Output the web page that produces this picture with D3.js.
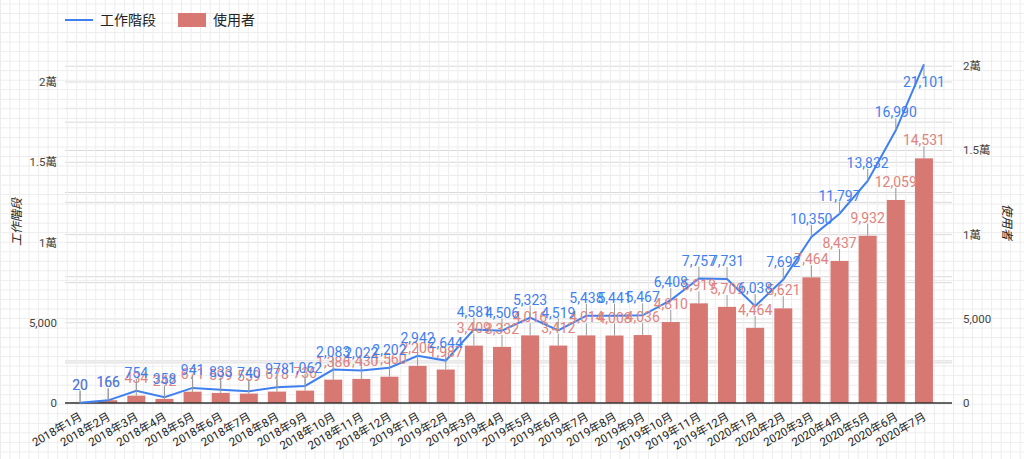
<!DOCTYPE html>
<html>
<head>
<meta charset="utf-8">
<script src="https://cdn.jsdelivr.net/npm/d3@7"></script>
<style>
  body { margin: 0; background: #fff; }
  svg { display: block; font-family: Roboto, "Noto Sans CJK TC", sans-serif; }
</style>
</head>
<body>
<div id="chart-area"></div>
<script>
const months = ['2018年1月','2018年2月','2018年3月','2018年4月','2018年5月','2018年6月','2018年7月','2018年8月','2018年9月','2018年10月','2018年11月','2018年12月',
  '2019年1月','2019年2月','2019年3月','2019年4月','2019年5月','2019年6月','2019年7月','2019年8月','2019年9月','2019年10月','2019年11月','2019年12月',
  '2020年1月','2020年2月','2020年3月','2020年4月','2020年5月','2020年6月','2020年7月'];
const sessions = [20, 166, 754, 358, 941, 833, 740, 978, 1062, 2083, 2022, 2202, 2942, 2644, 4581, 4506, 5323, 4519, 5438, 5441, 5467, 6408, 7757, 7731, 6038, 7692, 10350, 11797, 13832, 16990, 21101];
const users = [20, 166, 434, 242, 671, 599, 559, 678, 736, 1386, 1430, 1560, 2206, 1987, 3409, 3332, 4016, 3412, 4014, 4008, 4036, 4810, 5919, 5709, 4464, 5621, 7464, 8437, 9932, 12059, 14531];
const tickValues = [0, 5000, 10000, 15000, 20000];
const tickLabels = ['0', '5,000', '1萬', '1.5萬', '2萬'];
const seriesNames = ['工作階段', '使用者'];

const W = 1024, H = 459;
const blue = '#3f80f0', red = '#d77873', redText = '#e0837e';

let svg = d3.select('#chart-area').append('svg').attr('width', W).attr('height', H);

// graph paper background
let defs = svg.append('defs');
let pat = defs.append('pattern').attr('id', 'paper')
  .attr('patternUnits', 'userSpaceOnUse').attr('width', 9.53).attr('height', 9.53)
  .attr('x', 0).attr('y', 3.5);
pat.append('path').attr('d', 'M0.5 0V9.53M0 0.5H9.53')
  .attr('stroke', '#ececec').attr('stroke-width', 1).attr('fill', 'none');
svg.append('rect').attr('width', W).attr('height', H).attr('fill', '#fff');

let x = d3.scaleBand().domain(months).range([66, 938]).paddingInner(0.36).paddingOuter(0.18);
let yL = d3.scaleLinear().domain([0, 22500]).range([403, 41.9]);
let yR = d3.scaleLinear().domain([0, 21500]).range([403, 41]);

// gridlines for both axes
[yL, yR].forEach((sc) => {
  svg.append('g').selectAll('line').data(d3.range(2500, sc.domain()[1] + 1, 2500)).enter().append('line')
    .attr('x1', 65).attr('x2', 952)
    .attr('y1', (d) => sc(d)).attr('y2', (d) => sc(d))
    .attr('stroke', '#d9d9d9').attr('stroke-width', 1);
});

svg.append('rect').attr('width', W).attr('height', H).attr('fill', 'url(#paper)');

// bars
svg.append('g').selectAll('rect').data(users).enter().append('rect')
  .attr('x', (d, i) => x(months[i]))
  .attr('y', (d) => yR(d))
  .attr('width', x.bandwidth())
  .attr('height', (d) => 403 - yR(d))
  .attr('fill', red);

// baseline
svg.append('line').attr('x1', 65).attr('x2', 952).attr('y1', 403).attr('y2', 403)
  .attr('stroke', '#333').attr('stroke-width', 1.3);

// line
let line = d3.line().x((d, i) => x(months[i]) + x.bandwidth() / 2).y((d) => yL(d));
svg.append('path').datum(sessions).attr('d', line)
  .attr('fill', 'none').attr('stroke', blue).attr('stroke-width', 2);

// annotations
function annotate(data, sc, color) {
  let g = svg.append('g');
  data.forEach((d, i) => {
    let cx = x(months[i]) + x.bandwidth() / 2;
    let py = sc(d);
    let below = py - 30 < 41;
    let dir = below ? 1 : -1;
    g.append('line').attr('x1', cx).attr('x2', cx).attr('y1', py).attr('y2', py + dir * 12)
      .attr('stroke', '#999').attr('stroke-width', 1);
    g.append('text').attr('x', cx).attr('y', py + dir * 18)
      .attr('dy', '0.36em').attr('text-anchor', 'middle')
      .attr('font-size', 14).attr('fill', color)
      .text(d3.format(',')(d));
  });
}
annotate(users, yR, redText);
annotate(sessions, yL, blue);

// y tick labels
svg.append('g').selectAll('text').data(tickValues).enter().append('text')
  .attr('x', 57).attr('y', (d) => yL(d)).attr('dy', '0.35em')
  .attr('text-anchor', 'end').attr('font-size', 11.5).attr('fill', '#444')
  .text((d, i) => tickLabels[i]);
svg.append('g').selectAll('text').data(tickValues).enter().append('text')
  .attr('x', 963).attr('y', (d) => yR(d)).attr('dy', '0.35em')
  .attr('text-anchor', 'start').attr('font-size', 11.5).attr('fill', '#444')
  .text((d, i) => tickLabels[i]);

// x labels
svg.append('g').selectAll('text').data(months).enter().append('text')
  .attr('transform', (d) => 'translate(' + (x(d) + x.bandwidth() / 2 + 3) + ',419) rotate(-30)')
  .attr('text-anchor', 'end').attr('font-size', 11.5).attr('fill', '#222')
  .text((d) => d);

// axis titles
svg.append('text').attr('transform', 'translate(21,222) rotate(-90)')
  .attr('text-anchor', 'middle').attr('font-size', 12).attr('font-style', 'italic').attr('fill', '#222')
  .text(seriesNames[0]);
svg.append('text').attr('transform', 'translate(1003,222) rotate(90)')
  .attr('text-anchor', 'middle').attr('font-size', 12).attr('font-style', 'italic').attr('fill', '#222')
  .text(seriesNames[1]);

// legend
let lg = svg.append('g');
lg.append('line').attr('x1', 65).attr('x2', 93).attr('y1', 20).attr('y2', 20)
  .attr('stroke', blue).attr('stroke-width', 2);
lg.append('text').attr('x', 100).attr('y', 20).attr('dy', '0.35em')
  .attr('font-size', 14).attr('fill', '#222').text(seriesNames[0]);
lg.append('rect').attr('x', 178).attr('y', 13).attr('width', 28).attr('height', 14).attr('fill', red);
lg.append('text').attr('x', 213).attr('y', 20).attr('dy', '0.35em')
  .attr('font-size', 14).attr('fill', '#222').text(seriesNames[1]);
</script>
</body>
</html>
